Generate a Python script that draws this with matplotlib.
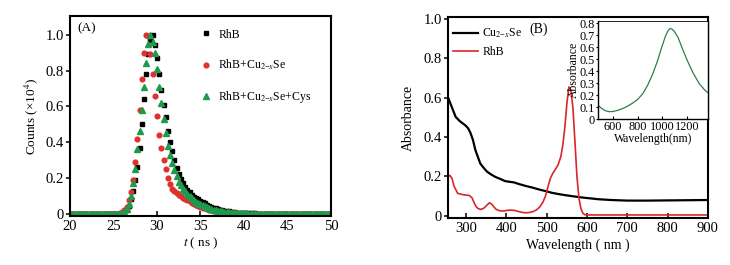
import numpy as np
import matplotlib
matplotlib.use("Agg")
import matplotlib.pyplot as plt
from matplotlib.ticker import FuncFormatter, MultipleLocator

plt.rcParams['font.family'] = ['Liberation Serif', 'DejaVu Serif']
plt.rcParams['mathtext.fontset'] = 'stix'

# ---- panel A: fluorescence decay, t = 20 + 0.25*i ns ----
t_start, t_step = 20.0, 0.25
rhb = [0] * 24 + [
    0.003, 0.008, 0.02, 0.045, 0.08, 0.13, 0.19, 0.26,
    0.37, 0.50, 0.64, 0.78, 0.89, 0.97, 1.0, 0.94,
    0.87, 0.78, 0.69, 0.61, 0.54, 0.46, 0.40, 0.35,
    0.30, 0.255, 0.225, 0.195, 0.17, 0.15, 0.135, 0.12,
    0.105, 0.096, 0.088, 0.08, 0.072, 0.065, 0.058, 0.051,
    0.045, 0.04, 0.035, 0.031, 0.027, 0.023, 0.02, 0.017,
    0.015, 0.013, 0.011, 0.009, 0.008, 0.007, 0.006, 0.005,
    0.004, 0.0035, 0.003, 0.0025, 0.002, 0.002, 0.0015, 0.001,
    0.001] + [0] * 32
rhb_cu = [0] * 23 + [
    0.002, 0.008, 0.02, 0.04, 0.075, 0.12, 0.19, 0.29, 0.42,
    0.58, 0.75, 0.90, 1.0, 0.99, 0.89, 0.78, 0.66,
    0.545, 0.44, 0.37, 0.30, 0.25, 0.20, 0.165, 0.14,
    0.125, 0.115, 0.105, 0.097, 0.09, 0.083, 0.076, 0.07,
    0.063, 0.057, 0.051, 0.045, 0.04, 0.035, 0.031, 0.027,
    0.023, 0.02, 0.017, 0.014, 0.012, 0.01, 0.008, 0.007,
    0.006, 0.005, 0.004, 0.003, 0.002, 0.002, 0.001] + [0] * 42
rhb_cu_cys = [0] * 24 + [
    0.005, 0.012, 0.028, 0.055, 0.10, 0.17, 0.25, 0.36,
    0.46, 0.58, 0.71, 0.84, 0.95, 1.0, 0.96, 0.90,
    0.81, 0.71, 0.62, 0.53, 0.45, 0.38, 0.33, 0.285,
    0.245, 0.21, 0.18, 0.16, 0.14, 0.125, 0.11, 0.098,
    0.087, 0.077, 0.068, 0.06, 0.053, 0.047, 0.041, 0.036,
    0.031, 0.027, 0.023, 0.02, 0.017, 0.015, 0.013, 0.011,
    0.009, 0.008, 0.007, 0.006, 0.005, 0.004, 0.003, 0.003,
    0.002, 0.002, 0.001, 0.001] + [0] * 37
t = t_start + t_step * np.arange(len(rhb))

# ---- panel B: absorption spectra ----
cu_wl = [256, 265, 274, 285, 298, 305, 311, 317, 323, 329, 335, 343, 352, 362,
         372, 385, 397, 410, 418, 430, 447, 465, 480, 500, 512, 530, 545, 565,
         587, 610, 628, 660, 700, 750, 800, 850, 900]
cu_abs = [0.597, 0.55, 0.503, 0.48, 0.46, 0.445, 0.42, 0.385, 0.334, 0.30, 0.266,
          0.245, 0.224, 0.21, 0.198, 0.187, 0.176, 0.172, 0.17, 0.162, 0.152,
          0.143, 0.134, 0.124, 0.117, 0.11, 0.105, 0.099, 0.093, 0.088, 0.084,
          0.08, 0.077, 0.077, 0.078, 0.079, 0.08]
rhb_wl = [256, 260, 265, 270, 279, 290, 300, 308, 315, 320, 325, 330, 337, 345,
          352, 358, 364, 370, 375, 381, 387, 395, 408, 420, 433, 442, 449, 458,
          466, 474, 483, 491, 497, 503, 509, 515, 521, 528, 535, 540, 545, 550,
          555, 560, 565, 570, 575, 580, 585, 590, 595, 600, 650, 700, 750, 800,
          850, 900]
rhb_abs = [0.2, 0.205, 0.19, 0.15, 0.114, 0.108, 0.105, 0.103, 0.09, 0.065, 0.046,
           0.036, 0.032, 0.04, 0.055, 0.066, 0.058, 0.042, 0.032, 0.027, 0.024,
           0.025, 0.029, 0.027, 0.02, 0.016, 0.015, 0.017, 0.021, 0.029, 0.045,
           0.071, 0.1, 0.147, 0.19, 0.215, 0.235, 0.258, 0.3, 0.36, 0.45, 0.57,
           0.655, 0.64, 0.55, 0.38, 0.2, 0.09, 0.035, 0.012, 0.005, 0.004, 0.004,
           0.004, 0.004, 0.004, 0.004, 0.004]
nir_wl = [475, 500, 520, 540, 560, 580, 600, 640, 680, 720, 760, 800, 840, 880,
          920, 960, 1000, 1030, 1050, 1065, 1080, 1100, 1130, 1160, 1200, 1250,
          1300, 1350, 1375]
nir_abs = [0.117, 0.095, 0.08, 0.07, 0.064, 0.063, 0.065, 0.075, 0.09, 0.11, 0.135,
           0.165, 0.21, 0.28, 0.37, 0.48, 0.61, 0.7, 0.74, 0.755, 0.75, 0.73, 0.68,
           0.6, 0.5, 0.39, 0.3, 0.24, 0.22]

fig = plt.figure(figsize=(7.3, 2.65), dpi=100)
axA = fig.add_axes([0.0959, 0.185, 0.3575, 0.755])
axB = fig.add_axes([0.6137, 0.177, 0.356, 0.758])
axI = fig.add_axes([0.819, 0.55, 0.151, 0.372])

zero_fmt = FuncFormatter(lambda v, p: "0" if abs(v) < 1e-9 else "%.1f" % v)

# panel A
axA.plot(t, rhb, 's', color='black', ms=3.2, label='RhB')
axA.plot(t, rhb_cu, 'o', color='#e0302c', ms=3.4, label='RhB+Cu$_{2\\mathregular{-}x}$Se')
axA.plot(t, rhb_cu_cys, '^', color='#1e9a4c', ms=4, label='RhB+Cu$_{2\\mathregular{-}x}$Se+Cys')
axA.set_xlim(20, 50)
axA.set_ylim(-0.012, 1.105)
axA.xaxis.set_major_locator(MultipleLocator(5))
axA.yaxis.set_major_locator(MultipleLocator(0.2))
axA.yaxis.set_major_formatter(zero_fmt)
axA.set_xlabel('$t$ ( ns )', fontsize=9.5, labelpad=2)
axA.set_ylabel('Counts (×10$^4$)', fontsize=9.5, labelpad=4)
axA.text(0.03, 0.97, '(A)', transform=axA.transAxes, fontsize=9.5, va='top')
axA.legend(loc='upper left', bbox_to_anchor=(0.455, 0.99), frameon=False,
           fontsize=8.5, labelspacing=1.45, handletextpad=0.4, handlelength=1.2)

# panel B
axB.plot(cu_wl, cu_abs, color='black', lw=1.6, label='Cu$_{2\\mathregular{-}x}$Se')
axB.plot(rhb_wl, rhb_abs, color='#d8262a', lw=1.2, label='RhB')
axB.set_xlim(255, 900)
axB.set_ylim(-0.012, 1.01)
axB.xaxis.set_major_locator(MultipleLocator(100))
axB.yaxis.set_major_locator(MultipleLocator(0.2))
axB.yaxis.set_major_formatter(zero_fmt)
axB.set_xlabel('Wavelength ( nm )', fontsize=10, labelpad=2)
axB.set_ylabel('Absorbance', fontsize=10, labelpad=6)
axB.text(0.315, 0.975, '(B)', transform=axB.transAxes, fontsize=10, va='top')
axB.legend(loc='upper left', bbox_to_anchor=(-0.02, 1.005), frameon=False,
           fontsize=8.5, handlelength=2.1, handletextpad=0.35, labelspacing=0.5)

# inset
axI.plot(nir_wl, nir_abs, color='#2f7d4d', lw=0.9)
axI.set_xlim(475, 1375)
axI.set_ylim(0, 0.82)
axI.xaxis.set_major_locator(MultipleLocator(200))
axI.yaxis.set_major_locator(MultipleLocator(0.1))
axI.yaxis.set_major_formatter(zero_fmt)
axI.set_xlabel('Wavelength(nm)', fontsize=8.5, labelpad=0)
axI.set_ylabel('Absorbance', fontsize=8.5, labelpad=0)

for ax in (axA, axB):
    ax.tick_params(axis='x', direction='in', labelsize=10.5, length=3.5, width=1.1, pad=3)
    ax.tick_params(axis='y', direction='out', labelsize=10.5, length=3, width=1.1, pad=1.5)
    for s in ax.spines.values():
        s.set_linewidth(1.5)
axI.tick_params(axis='x', direction='in', labelsize=8.8, length=2.5, width=0.8, pad=1)
axI.tick_params(axis='y', direction='out', labelsize=8.8, length=1.5, width=0.8, pad=0.5)
for s in axI.spines.values():
    s.set_linewidth(1.0)
axI.spines['top'].set_linewidth(0.6)

fig.savefig('out.png', dpi=100)
